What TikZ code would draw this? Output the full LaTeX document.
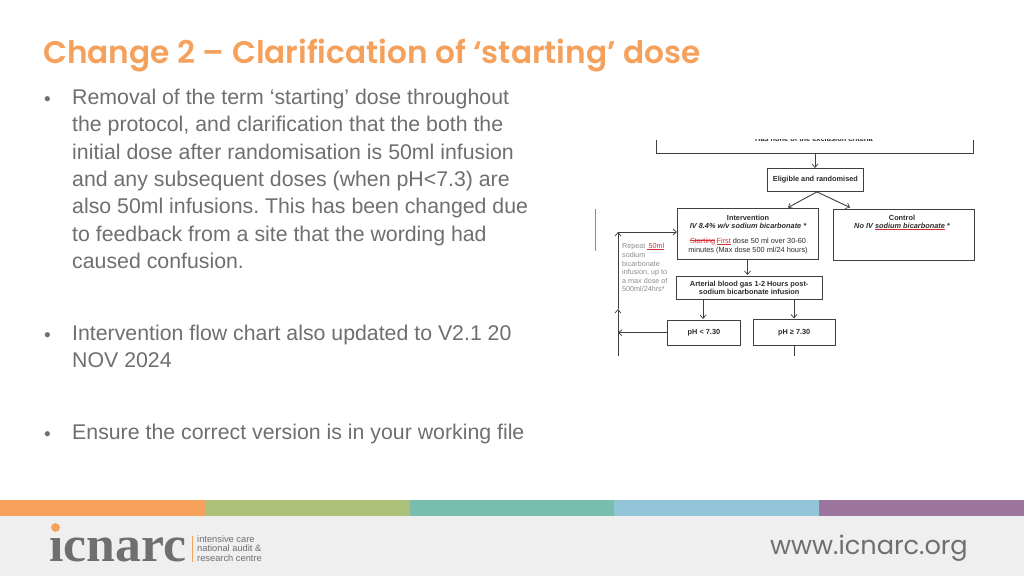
\documentclass[tikz,border=0pt]{standalone}
\usepackage{fontspec}
\setmainfont{Liberation Sans}
\newfontfamily\popfont{Poppins}
\newfontfamily\popsemi{Poppins SemiBold}
\newfontfamily\seriffont{Liberation Serif}
\usetikzlibrary{arrows.meta}
\frenchspacing
\definecolor{bodygrey}{HTML}{6F6F6F}
\definecolor{titleorange}{HTML}{F5A15C}
\definecolor{flowline}{HTML}{3F3F3F}
\definecolor{flowtext}{HTML}{2B2B2B}
\definecolor{repeatgrey}{HTML}{8C8C8C}
\definecolor{markred}{HTML}{D8303A}
\definecolor{footerbg}{HTML}{EFEFEF}
\newcommand\ruleover[2]{\leavevmode\setbox0\hbox{#2}\rlap{\textcolor{markred}{\rule[#1]{\wd0}{.45pt}}}\box0\relax}
\tikzset{
  x=1pt,y=-1pt,
  bodytext/.style={anchor=north west,inner sep=0pt,text=bodygrey,align=left,font=\fontsize{21.3}{27.3}\selectfont},
  bullet/.style={anchor=center,inner sep=0pt,text=bodygrey,font=\fontsize{19}{27.3}\selectfont},
  band/.style={draw=none,minimum height=15.5pt,minimum width=205pt,inner sep=0pt,anchor=north west},
  flowbox/.style={draw=flowline,line width=.9pt,inner sep=0pt,anchor=north west,text=flowtext,align=center},
  smallbf/.style={font=\fontsize{7.35}{8.6}\selectfont\bfseries},
  smallrg/.style={font=\fontsize{7.35}{8.6}\selectfont},
  conn/.style={draw=flowline,line width=.9pt,-{Straight Barb[length=3.5pt,width=6pt,line width=.7pt]}},
  plainline/.style={draw=flowline,line width=.9pt}
}
\begin{document}
\begin{tikzpicture}
\useasboundingbox (0,0) rectangle (1024,576);
\fill[white] (0,0) rectangle (1024,576);
% title
\node[anchor=base west,inner sep=0pt,text=titleorange,font=\popsemi\fontsize{31.2}{36}\selectfont] (title) at (43,63) {Change 2 – Clarification of ‘starting’ dose};
% body
\node[bullet] (b1) at (47.5,101.5) {•};
\node[bodytext] (t1) at (72,89) {Removal of the term ‘starting’ dose throughout\\the protocol, and clarification that the both the\\initial dose after randomisation is 50ml infusion\\and any subsequent doses (when pH<7.3) are\\also 50ml infusions. This has been changed due\\to feedback from a site that the wording had\\caused confusion.};
\node[bullet] (b2) at (47.5,337.5) {•};
\node[bodytext] (t2) at (72,325) {Intervention flow chart also updated to V2.1 20\\NOV 2024};
\node[bullet] (b3) at (47.5,436.5) {•};
\node[bodytext] (t3) at (72,424) {Ensure the correct version is in your working file};
% flow chart
\begin{scope}
\clip (640,139.5) rectangle (990,160);
\node[anchor=base,inner sep=0pt,text=flowtext,smallbf] (crit) at (814,141.5) {Has none of the exclusion criteria};
\end{scope}
\coordinate (tl) at (656.5,140);
\coordinate (tr) at (973.5,140);
\coordinate (tmid) at (815,153);
\draw[plainline] (tl) |- (tr |- tmid) -- (tr);
\node[flowbox,smallbf,minimum width=96pt,minimum height=23pt] (elig) at (767,168) {Eligible and randomised};
\node[flowbox,minimum width=141pt,minimum height=50.5pt] (interv) at (677,208) {};
\node[anchor=base,inner sep=0pt,text=flowtext,smallbf] (intervA) at (748,220) {Intervention};
\node[anchor=base,inner sep=0pt,text=flowtext,smallbf] (intervB) at (748,228) {\itshape IV 8.4\% w/v sodium bicarbonate *};
\node[anchor=base,inner sep=0pt,text=flowtext,smallrg,align=center] (intervC) at (748,243) {\textcolor{markred}{\ruleover{2.2pt}{Starting}\,\ruleover{-1pt}{First}}\ dose 50 ml over 30-60};
\node[anchor=base,inner sep=0pt,text=flowtext,smallrg] (intervD) at (748,252.5) {minutes (Max dose 500 ml/24 hours)};
\node[flowbox,minimum width=141pt,minimum height=51pt] (ctrl) at (832.5,208.5) {};
\node[anchor=base,inner sep=0pt,text=flowtext,smallbf] (ctrlA) at (902,220.5) {Control};
\node[anchor=base,inner sep=0pt,text=flowtext,smallbf] (ctrlB) at (902,228.5) {\itshape No IV \ruleover{-1pt}{sodium bicarbonate}\ *};
\node[flowbox,smallbf,minimum width=145.5pt,minimum height=23.5pt] (abg) at (676,275.5) {Arterial blood gas 1-2 Hours post-\\sodium bicarbonate infusion};
\node[flowbox,smallbf,minimum width=73pt,minimum height=25.5pt] (low) at (667,319.5) {pH < 7.30};
\node[flowbox,smallbf,minimum width=82.5pt,minimum height=26pt] (high) at (752.5,319) {pH ≥ 7.30};
\coordinate (lb) at (618,356);
\coordinate (lt) at (618,232);
\coordinate (la) at (618,309);
\coordinate (hb) at (794,356);
\coordinate (vtop) at (595.5,209);
\coordinate (vbot) at (595.5,251);
\draw[conn] (tmid) -- (elig.north -| tmid);
\draw[conn] (elig.south) ++(1.5,0) coordinate (es) -- (788,207.5);
\draw[conn] (es) -- (850,207.5);
\draw[conn] (747.5,258.5) -- (747.5,275);
\draw[conn] (703,299) -- (703,319);
\draw[conn] (794,299) -- (794,318.5);
\draw[plainline] (high.south -| hb) -- (hb);
\draw[conn] (low.west) -- (lb |- low.west);
\draw[conn] (lb) -- (la);
\draw[conn] (la) -- (lt);
\draw[conn] (lt) -- (interv.west |- lt);
\draw[draw=repeatgrey,line width=.7pt] (vtop) -- (vbot);
\node[anchor=north west,inner sep=0pt,align=left,text=repeatgrey,font=\fontsize{7.2}{8.6}\selectfont] (rep) at (622,243.5) {Repeat \textcolor{markred}{\ruleover{-1pt}{\,50ml}}\\sodium\\bicarbonate\\infusion, up to\\a max dose of\\500ml/24hrs*};
% footer
\fill[footerbg] (0,515) rectangle (1024,576);
\node[band,fill=titleorange] (s1) at (0,500) {};
\node[band,fill={rgb,255:red,174;green,193;blue,123}] (s2) at (205,500) {};
\node[band,fill={rgb,255:red,120;green,189;blue,173}] (s3) at (410,500) {};
\node[band,fill={rgb,255:red,147;green,197;blue,217}] (s4) at (614,500) {};
\node[band,fill={rgb,255:red,156;green,118;blue,159}] (s5) at (819,500) {};
\node[anchor=base west,inner sep=0pt,text=bodygrey,font=\popfont\fontsize{25.6}{30}\selectfont] (url) at (770,554.5) {www.icnarc.org};
\node[anchor=base west,inner sep=0pt,text=bodygrey,xscale=1.035,font=\seriffont\bfseries\fontsize{50}{60}\selectfont] (logo) at (49,561) {icnarc};
\fill[footerbg] (49,522) rectangle (62,535);
\fill[titleorange] (55.5,527.5) circle (4.4);
\draw[titleorange,line width=.6pt] (192.5,536) -- (192.5,562);
\node[anchor=north west,inner sep=0pt,align=left,text=bodygrey,font=\fontsize{9.3}{9.5}\selectfont] (tag) at (197,535.3) {intensive care\\national audit \&\\research centre};
\end{tikzpicture}
\end{document}
